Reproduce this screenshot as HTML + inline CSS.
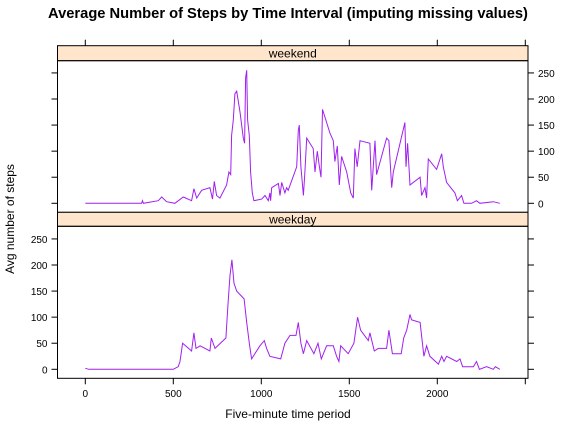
<!DOCTYPE html>
<html><head><meta charset="utf-8">
<style>
html,body{margin:0;padding:0;background:#fff;}
svg{display:block;font-family:"Liberation Sans",sans-serif;}
</style></head>
<body>
<svg id="chart" width="576" height="432" viewBox="0 0 576 432">
<text x="288" y="18" text-anchor="middle" font-size="14.7" font-weight="bold">Average Number of Steps by Time Interval (imputing missing values)</text>
<text x="288" y="418" text-anchor="middle" font-size="12">Five-minute time period</text>
<text transform="translate(14,219) rotate(-90)" text-anchor="middle" font-size="12">Avg number of steps</text>
<g id="g"></g>
</svg>
<script>
const xTicks=[0,500,1000,1500,2000,2500];
const xTickLabels=["0","500","1000","1500","2000",""];
const yTicks=[0,50,100,150,200,250];
const yTickLabels=["0","50","100","150","200","250"];
const panelNames=["weekend","weekday"];
const weekendX=[0,320,325,330,415,434,462,509,557,604,617,633,661,708,723,733,746,765,803,816,826,831,841,850,860,879,898,905,911,917,922,932,939,949,958,1002,1021,1040,1049,1053,1059,1097,1106,1116,1134,1144,1153,1201,1210,1216,1225,1239,1248,1258,1295,1305,1318,1330,1339,1348,1390,1409,1418,1432,1443,1456,1485,1508,1523,1532,1545,1561,1617,1627,1646,1655,1712,1725,1741,1750,1816,1822,1831,1845,1902,1911,1930,1939,1949,1996,2025,2034,2053,2100,2114,2138,2151,2195,2223,2242,2318,2355];
const weekendY=[0,0,5,0,5,12,3,0,12,5,28,10,25,30,8,42,15,10,35,60,55,130,160,210,215,175,125,115,240,255,160,130,60,20,5,8,15,5,20,5,30,38,15,40,20,30,25,70,140,150,70,15,60,125,105,60,100,70,50,180,135,120,80,110,35,90,60,20,10,105,70,120,115,25,120,55,125,120,30,60,155,70,115,35,50,15,30,10,85,65,95,70,40,20,5,15,0,0,5,0,3,0];
const weekdayX=[0,20,500,528,538,553,604,617,629,652,708,716,737,799,811,822,833,845,860,902,917,932,945,992,1017,1030,1049,1110,1134,1163,1197,1210,1225,1239,1258,1299,1322,1341,1371,1409,1428,1441,1451,1494,1526,1547,1564,1608,1617,1642,1665,1712,1725,1745,1795,1809,1826,1845,1854,1902,1924,1939,1958,2006,2025,2038,2053,2110,2129,2144,2205,2223,2239,2280,2318,2330,2355];
const weekdayY=[2,0,0,5,15,50,35,70,40,45,35,60,40,60,125,180,210,165,150,135,90,50,20,45,55,40,25,20,50,65,65,90,50,30,55,30,50,20,45,45,25,15,45,30,50,100,75,55,70,35,40,40,75,30,30,60,75,105,95,90,25,45,25,10,25,15,25,15,20,5,5,15,0,5,0,5,0];

const NS="http://www.w3.org/2000/svg";
const g=document.getElementById('g');
const L=57.5,R=528,x0=85.3,xs=0.176;
const sx=v=>x0+v*xs;
const panels=[{top:60.7,bottom:212.3,y0:203.3,xs:weekendX,ys:weekendY,stripTop:45.7},
              {top:226.3,bottom:378.3,y0:369.3,xs:weekdayX,ys:weekdayY,stripTop:212.3}];
const yk=0.5215;
function mk(t,a,parent){const e=document.createElementNS(NS,t);for(const k in a)e.setAttribute(k,a[k]);(parent||g).appendChild(e);return e;}
panels.forEach((p,i)=>{
  const sy=v=>p.y0-v*yk;
  const strip=mk('rect',{x:L,y:p.stripTop,width:R-L,height:p.top-p.stripTop,fill:'#ffe5cc',stroke:'#000','stroke-width':1});
  
  
  const st=mk('text',{x:(L+R)/2,y:p.top-3,'text-anchor':'middle','font-size':12});
  st.textContent=panelNames[i];
  
  
  const box=mk('rect',{x:L,y:p.top,width:R-L,height:p.bottom-p.top,fill:'none',stroke:'#000','stroke-width':1});
  
  
  yTicks.forEach((v,j)=>{
    const y=sy(v);
    mk('line',{x1:L-6,x2:L,y1:y,y2:y,stroke:'#000'});
    mk('line',{x1:R,x2:R+6,y1:y,y2:y,stroke:'#000'});
    if(i===0){const t=mk('text',{x:R+10,y:y+4,'font-size':10});t.textContent=yTickLabels[j];
      
      }
    else{const t=mk('text',{x:L-10,y:y+4,'font-size':10,'text-anchor':'end'});t.textContent=yTickLabels[j];
      
      }
  });
  let d='';
  p.xs.forEach((v,j)=>{d+=(j?'L':'M')+sx(v).toFixed(1)+' '+sy(p.ys[j]).toFixed(1);});
  const path=mk('path',{d:d,fill:'none',stroke:'#a020f0','stroke-width':1});
  
  
});
xTicks.forEach((v,j)=>{
  const x=sx(v);
  mk('line',{x1:x,x2:x,y1:39.7,y2:45.7,stroke:'#000'});
  mk('line',{x1:x,x2:x,y1:378.3,y2:384.3,stroke:'#000'});
  const t=mk('text',{x:x,y:397,'text-anchor':'middle','font-size':10});t.textContent=xTickLabels[j];
  
  
});
</script>
</body></html>
